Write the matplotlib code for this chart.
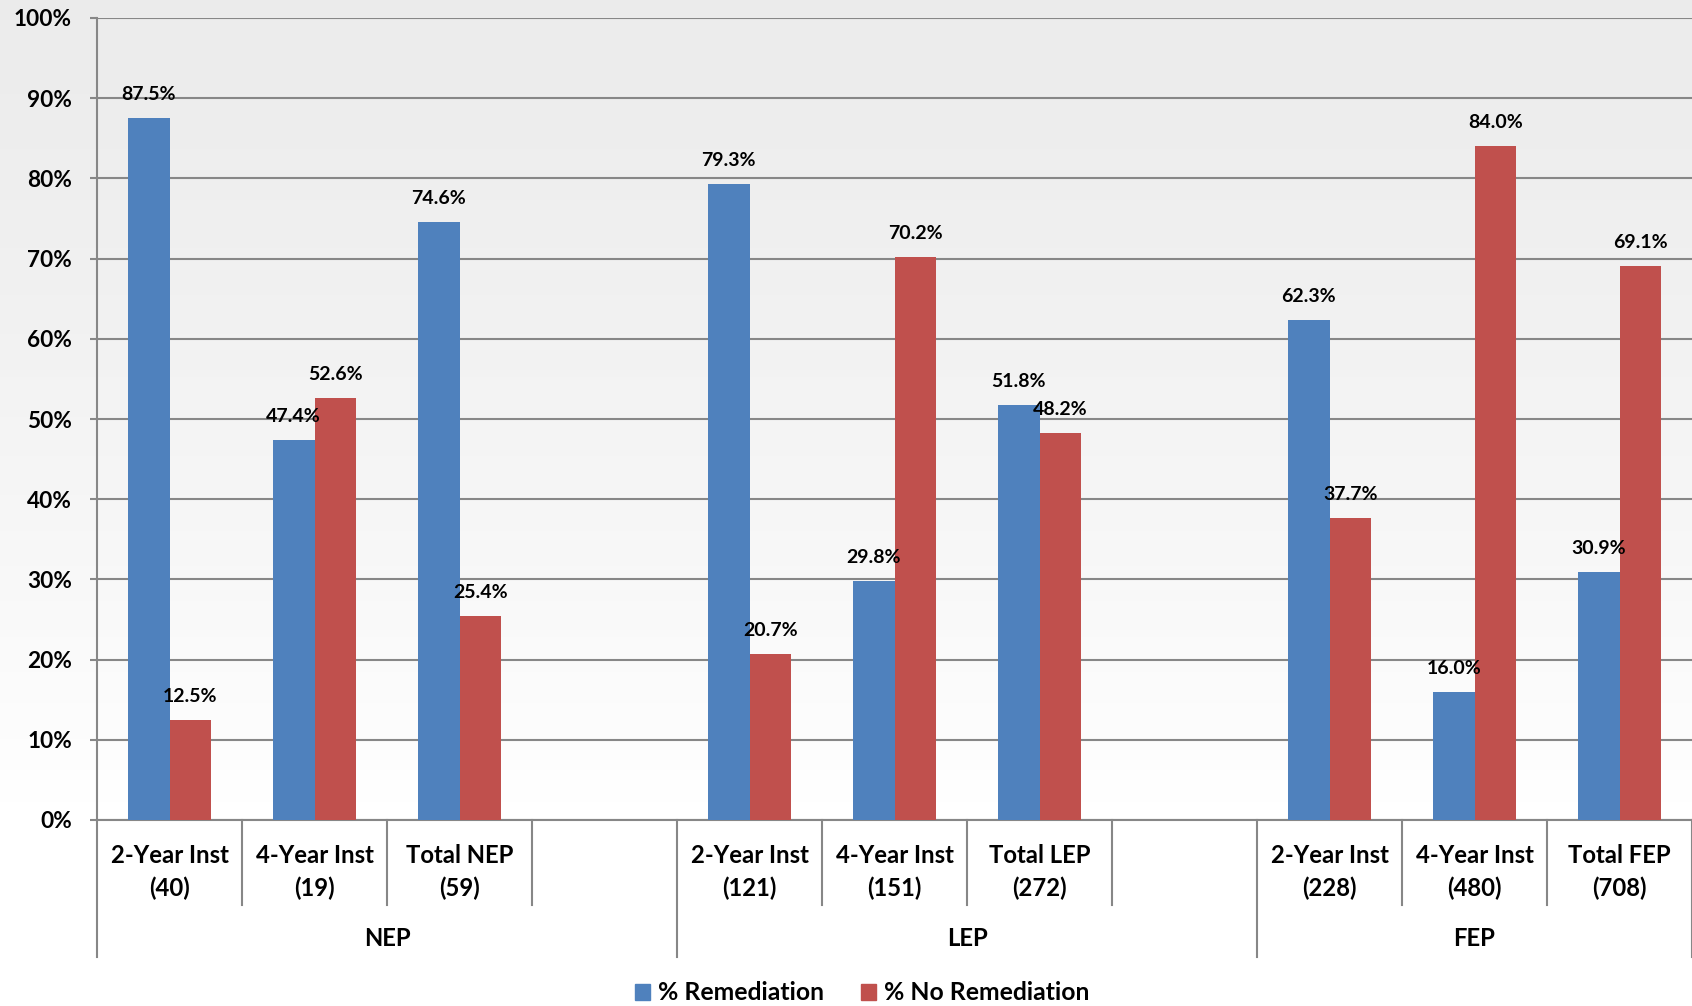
import numpy as np
import matplotlib
matplotlib.use("Agg")
import matplotlib.pyplot as plt
from matplotlib.patches import Patch
import matplotlib.transforms as mtransforms

plt.rcParams['font.family'] = ['Lato', 'DejaVu Sans']
plt.rcParams['font.weight'] = 'bold'

# ---- data ----
groups = ["NEP", "LEP", "FEP"]
categories = [
    ["2-Year Inst\n(40)", "4-Year Inst\n(19)", "Total NEP\n(59)"],
    ["2-Year Inst\n(121)", "4-Year Inst\n(151)", "Total LEP\n(272)"],
    ["2-Year Inst\n(228)", "4-Year Inst\n(480)", "Total FEP\n(708)"],
]
remediation = [87.5, 47.4, 74.6, 79.3, 29.8, 51.8, 62.3, 16.0, 30.9]
no_remediation = [12.5, 52.6, 25.4, 20.7, 70.2, 48.2, 37.7, 84.0, 69.1]
series_names = ["% Remediation", "% No Remediation"]
yticks = [0, 10, 20, 30, 40, 50, 60, 70, 80, 90, 100]

blue = "#4F81BD"
red = "#C0504D"
grid_c = "#878787"

W, H = 1692, 1006
fig = plt.figure(figsize=(W / 100, H / 100), dpi=100)

# background gradient
bg = fig.add_axes([0, 0, 1, 1], zorder=-10)
grad = np.linspace(0, 1, 256)
col = np.clip(0.925 + 0.075 * (grad / 0.8) ** 1.3, 0, 1)
img = np.repeat(col[:, None], 2, axis=1)
img = np.dstack([img, img, img])
bg.imshow(img, aspect='auto', extent=[0, 1, 0, 1], origin='upper')
bg.axis('off')

ax = fig.add_axes([97 / W, (H - 820) / H, 1 - 97 / W, 802 / H])
ax.patch.set_alpha(0)

# positions (slots with a gap between groups)
xs = []
labels = []
for g, cats in enumerate(categories):
    for j, c in enumerate(cats):
        xs.append(g * 4 + j)
        labels.append(c)
xs = np.array(xs, dtype=float)

bw = 0.287
b1 = ax.bar(xs - bw / 2, remediation, bw, color=blue, zorder=3, label=series_names[0])
b2 = ax.bar(xs + bw / 2, no_remediation, bw, color=red, zorder=3, label=series_names[1])

for bars, vals in ((b1, remediation), (b2, no_remediation)):
    for rect, v in zip(bars, vals):
        ax.annotate(f"{v:.1f}%", (rect.get_x() + rect.get_width() / 2, v),
                    xytext=(0, 13), textcoords='offset points',
                    ha='center', va='baseline', fontsize=14, fontweight='bold',
                    color='black', zorder=5)

ax.set_xlim(-0.5, 10.5)
ax.set_ylim(0, 100)
ax.set_yticks(yticks)
ax.set_yticklabels([f"{t}%" for t in yticks], fontsize=16.3, fontweight='bold')
ax.tick_params(axis='y', length=5, width=1.5, color=grid_c, pad=13)
ax.set_xticks([])
ax.grid(axis='y', color=grid_c, linewidth=1.5, zorder=0)
for s in ['top', 'right']:
    ax.spines[s].set_visible(False)
ax.spines['left'].set_color(grid_c)
ax.spines['left'].set_linewidth(1.5)
ax.spines['bottom'].set_color(grid_c)
ax.spines['bottom'].set_linewidth(1.5)

trans = mtransforms.blended_transform_factory(ax.transData, ax.transAxes)
ax_h = 802.0
def yf(py):
    return (820 - py) / ax_h

# category divider lines and labels
n_slots = len(groups) * 4 - 1
for k in range(n_slots + 1):
    xb = k - 0.5
    is_group = (k % 4 == 0) or (k == n_slots)
    y_end = yf(957) if is_group else yf(905)
    ax.plot([xb, xb], [0, y_end], transform=trans, color=grid_c, lw=1.5,
            clip_on=False, zorder=2)

for x, lab in zip(xs, labels):
    ax.text(x, yf(872), lab, transform=trans, ha='center', va='center',
            fontsize=17.2, fontweight='bold', linespacing=1.5)

for g, name in enumerate(groups):
    start = g * 4 - 0.5
    end = g * 4 + 3.5 if g < len(groups) - 1 else n_slots - 0.5
    ax.text((start + end) / 2, yf(939), name, transform=trans, ha='center',
            va='center', fontsize=17.2, fontweight='bold')

handles = [Patch(color=blue), Patch(color=red)]
fig.legend(handles, series_names, loc='center', bbox_to_anchor=(862 / W, 13 / H),
           ncol=2, frameon=False, handlelength=0.62,
           handleheight=0.62, handletextpad=0.3, columnspacing=1.5,
           prop={'weight': 'bold', 'size': 17.8})

fig.savefig("out.png", dpi=100)
